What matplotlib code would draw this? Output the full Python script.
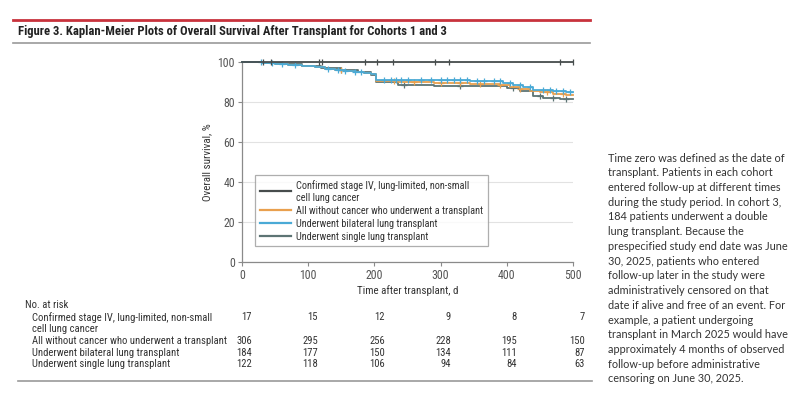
import bisect
import matplotlib
matplotlib.use("Agg")
import matplotlib.pyplot as plt
import matplotlib.font_manager as fm
from matplotlib.lines import Line2D
from matplotlib.textpath import TextPath

plt.rcParams['font.family'] = ['Lato', 'DejaVu Sans']

# ---------------- data ----------------
x_ticks = [0, 100, 200, 300, 400, 500]
y_ticks = [0, 20, 40, 60, 80, 100]

# Stage IV cohort: no events, censoring times
st4_t = [0, 500]
st4_s = [100, 100]
st4_cens = [32, 44, 116, 121, 186, 204, 228, 292, 313, 480, 500]

# All without cancer (orange)
all_t = [0, 30, 50, 70, 90, 110, 125, 140, 155, 170, 185, 195, 203, 235, 290, 345, 390, 405, 420, 435, 450, 470, 490, 500]
all_s = [100, 99.5, 99, 98.5, 98, 97.5, 96.5, 96, 95.5, 95, 94.5, 93.8, 90.5, 90, 89.5, 89.2, 88.5, 87.5, 86.5, 85.5, 84.8, 84, 83.5, 83.5]
all_cens = [150, 230, 260, 300, 330, 360, 390, 420, 460, 485]

# Bilateral (blue)
bil_t = [0, 30, 50, 70, 90, 110, 125, 140, 155, 170, 185, 195, 203, 260, 345, 395, 410, 425, 440, 470, 490, 500]
bil_s = [100, 99.5, 99, 98.5, 98, 97.5, 96.5, 96, 95.5, 95, 94.5, 94, 91.2, 90.8, 90.3, 89.5, 88.5, 87.3, 86, 85.5, 85, 85]
bil_cens = [28, 45, 60, 80, 130, 145, 155, 170, 180, 215, 225, 232, 240, 250, 270, 285, 300, 310, 320, 330,
            340, 355, 365, 380, 390, 405, 420, 435, 455, 465, 475, 485, 495]

# Single (dark teal grey)
sgl_t = [0, 30, 60, 90, 120, 150, 175, 195, 203, 235, 290, 350, 400, 420, 440, 455, 480, 500]
sgl_s = [100, 99.3, 98.8, 98, 97, 96, 95, 93.5, 90, 88.5, 88.2, 87.8, 87.2, 85.5, 83, 82, 81.5, 81.5]
sgl_cens = [150, 245, 330, 410, 450, 470, 490]

legend_labels = ["Confirmed stage IV, lung-limited, non-small\ncell lung cancer",
                 "All without cancer who underwent a transplant",
                 "Underwent bilateral lung transplant",
                 "Underwent single lung transplant"]

risk_labels = ["Confirmed stage IV, lung-limited, non-small\ncell lung cancer",
               "All without cancer who underwent a transplant",
               "Underwent bilateral lung transplant",
               "Underwent single lung transplant"]
risk_st4 = [17, 15, 12, 9, 8, 7]
risk_all = [306, 295, 256, 228, 195, 150]
risk_bil = [184, 177, 150, 134, 111, 87]
risk_sgl = [122, 118, 106, 94, 84, 63]

title = "Figure 3. Kaplan-Meier Plots of Overall Survival After Transplant for Cohorts 1 and 3"
note_lines = ["Time zero was defined as the date of",
              "transplant. Patients in each cohort",
              "entered follow-up at different times",
              "during the study period. In cohort 3,",
              "184 patients underwent a double",
              "lung transplant. Because the",
              "prespecified study end date was June",
              "30, 2025, patients who entered",
              "follow-up later in the study were",
              "administratively censored on that",
              "date if alive and free of an event. For",
              "example, a patient undergoing",
              "transplant in March 2025 would have",
              "approximately 4 months of observed",
              "follow-up before administrative",
              "censoring on June 30, 2025."]

# ---------------- colors ----------------
c_st4 = "#474d4d"
c_all = "#e9a04e"
c_bil = "#4aaad6"
c_sgl = "#5d7474"
txt = "#333333"

# ---------------- fonts ----------------
def pick_condensed(bold=False):
    names = {f.name for f in fm.fontManager.ttflist}
    for p in ['Liberation Sans Narrow', 'Roboto Condensed', 'Open Sans Condensed', 'Noto Sans Condensed']:
        if p in names:
            return fm.FontProperties(family=p, weight='bold' if bold else 'normal')
    cands = []
    for f in fm.fontManager.ttflist:
        fn = str(f.fname)
        base = fn.split('/')[-1]
        if 'ondensed' not in base or f.style != 'normal':
            continue
        bad = ['Italic', 'Oblique', 'Light', 'Thin', 'Black', 'Extra', 'Semi', 'Medium']
        if any(b in base for b in bad):
            continue
        isbold = 'Bold' in base
        if isbold != bold:
            continue
        rank = 0 if f.name in ('Noto Sans', 'Open Sans', 'Roboto') else 1
        cands.append((rank, fn))
    if cands:
        cands.sort()
        return fm.FontProperties(fname=cands[0][1])
    return fm.FontProperties(family='Lato', weight='bold' if bold else 'normal')

cond = pick_condensed(False)
cond_b = pick_condensed(True)
lato = fm.FontProperties(family='Lato')

def fit(prop, s, target_px):
    w = TextPath((0, 0), s, size=10, prop=prop).get_extents().width
    return 10 * target_px / (w * 100 / 72)

def fp(prop, size):
    p = prop.copy()
    p.set_size(size)
    return p

sz_leg = fit(cond, "All without cancer who underwent a transplant", 188)
sz_risk = fit(cond, "All without cancer who underwent a transplant", 193)
sz_tick = fit(cond, "100", 16)
sz_xl = fit(cond, "Time after transplant, d", 100)
sz_title = fit(cond_b, title, 428)
sz_note = fit(lato, "prespecified study end date was June", 177)

W, H = 800, 409
fig = plt.figure(figsize=(W / 100, H / 100), dpi=100)

def fx(px):
    return px / W

def fy(py):
    return 1 - py / H

# header lines and title
fig.add_artist(Line2D([fx(13), fx(590)], [fy(20), fy(20)], color="#c8323c", lw=2))
fig.add_artist(Line2D([fx(13), fx(590)], [fy(43), fy(43)], color="#999999", lw=1.2))
fig.add_artist(Line2D([fx(18), fx(592)], [fy(381), fy(381)], color="#999999", lw=1.2))
fig.text(fx(18), fy(32), title, fontproperties=fp(cond_b, sz_title), color="#222222",
         va="center", ha="left")

# main axes
ax = fig.add_axes([fx(242), fy(262), (573 - 242) / W, (262 - 62) / H])

def km(t, s, cens, color, marker, z):
    ax.step(t, s, where="post", color=color, lw=1.3, zorder=z, clip_on=False)
    ys = []
    for c in cens:
        i = bisect.bisect_right(t, c) - 1
        ys.append(s[max(i, 0)])
    ax.plot(cens, ys, ls="none", marker=marker, color=color, ms=5, mew=0.9, zorder=z, clip_on=False)

km(sgl_t, sgl_s, sgl_cens, c_sgl, "+", 3)
km(all_t, all_s, all_cens, c_all, "+", 4)
km(bil_t, bil_s, bil_cens, c_bil, "+", 5)
km(st4_t, st4_s, st4_cens, c_st4, "|", 6)

ax.set_xlim(0, 500)
ax.set_ylim(0, 100)
ax.set_xticks(x_ticks)
ax.set_yticks(y_ticks)
ax.grid(axis="y", color="#e2e2e2", lw=0.8)
ax.set_axisbelow(True)
for sp in ["top", "right"]:
    ax.spines[sp].set_visible(False)
for sp in ["left", "bottom"]:
    ax.spines[sp].set_color("#8a8a8a")
    ax.spines[sp].set_linewidth(0.9)
ax.tick_params(axis="both", colors="#8a8a8a", labelcolor="#555555", length=3, width=0.8, pad=2)
for lab in ax.get_xticklabels() + ax.get_yticklabels():
    lab.set_fontproperties(fp(cond, sz_tick))
ax.set_xlabel("Time after transplant, d", fontproperties=fp(cond, sz_xl), color=txt, labelpad=2)
ax.set_ylabel("Overall survival, %", fontproperties=fp(cond, sz_xl), color=txt, labelpad=4)

handles = [Line2D([], [], color=c, lw=1.6) for c in (c_st4, c_all, c_bil, c_sgl)]
leg = ax.legend(handles, legend_labels, loc="upper left", bbox_to_anchor=(13 / 331, (262 - 175) / 200),
                prop=fp(cond, sz_leg), frameon=True, fancybox=False, edgecolor="#9a9a9a",
                handlelength=3.0, handletextpad=0.5, borderpad=0.45, labelspacing=0.3,
                borderaxespad=0)
leg.get_frame().set_linewidth(0.9)
for t in leg.get_texts():
    t.set_color(txt)
    t.set_linespacing(1.25)

# risk table
fig.text(fx(25), fy(305), "No. at risk", fontproperties=fp(cond, sz_risk), color=txt, va="center")
row_y = [317, 341, 353, 364]
label_y = [323, 341, 353, 364]
for lab, ly in zip(risk_labels, label_y):
    fig.text(fx(32), fy(ly), lab, fontproperties=fp(cond, sz_risk), color=txt, va="center", linespacing=1.2)
col_x = [252, 318, 385, 451, 517, 585]
for vals, ry in zip([risk_st4, risk_all, risk_bil, risk_sgl], row_y):
    for v, cx in zip(vals, col_x):
        fig.text(fx(cx), fy(ry), str(v), fontproperties=fp(cond, sz_risk), color=txt, va="center", ha="right")

# side note, one text per line
for i, line in enumerate(note_lines):
    fig.text(fx(608), fy(157 + i * 14.73), line, fontproperties=fp(lato, sz_note), color=txt,
             va="center_baseline", ha="left")

fig.savefig("out.png", dpi=100)
